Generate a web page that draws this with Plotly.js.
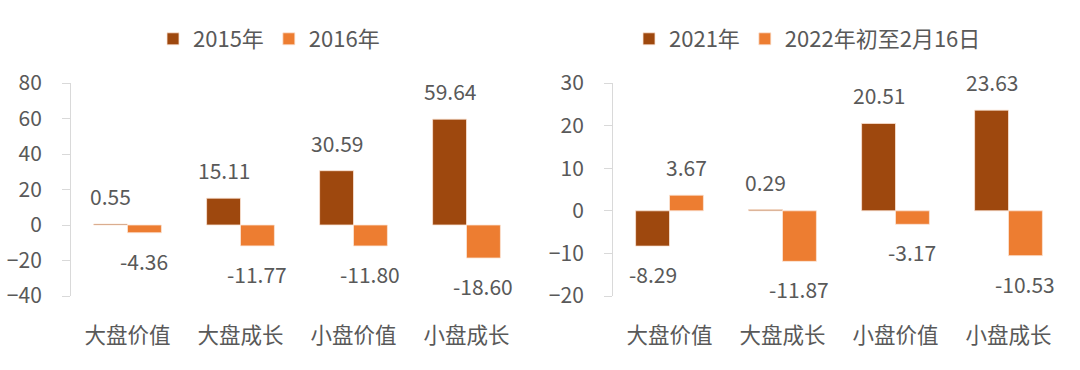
<!DOCTYPE html>
<html>
<head>
<meta charset="utf-8">
<script src="https://cdn.plot.ly/plotly-3.0.1.min.js"></script>
<style>html,body{margin:0;padding:0;background:#fff;}#chart{width:1080px;height:370px;}</style>
</head>
<body>
<div id="chart"></div>
<script>
const categories = ['大盘价值', '大盘成长', '小盘价值', '小盘成长'];
const seriesNamesLeft = ['2015年', '2016年'];
const seriesNamesRight = ['2021年', '2022年初至2月16日'];
const v2015 = [0.55, 15.11, 30.59, 59.64];
const v2016 = [-4.36, -11.77, -11.80, -18.60];
const v2021 = [-8.29, 0.29, 20.51, 23.63];
const v2022 = [3.67, -11.87, -3.17, -10.53];
const leftTicks = [-40, -20, 0, 20, 40, 60, 80];
const rightTicks = [-20, -10, 0, 10, 20, 30];

const DARK = '#9E480E', ORANGE = '#ED7D31', GREY = '#595959', AXIS = '#D9D9D9';
const FONT = 'Noto Sans CJK SC, Noto Sans, sans-serif';
const outline = {color: '#FBE5D6', width: 0.8};

function bar(name, y, color, xa, ya, legend) {
  return {type: 'bar', name: name, x: categories, y: y, xaxis: xa, yaxis: ya,
    marker: {color: color, line: outline}, legend: legend, hoverinfo: 'skip'};
}
const traces = [
  bar(seriesNamesLeft[0], v2015, DARK, 'x', 'y', 'legend'),
  bar(seriesNamesLeft[1], v2016, ORANGE, 'x', 'y', 'legend'),
  bar(seriesNamesRight[0], v2021, DARK, 'x2', 'y2', 'legend2'),
  bar(seriesNamesRight[1], v2022, ORANGE, 'x2', 'y2', 'legend2')
];

const annotations = [];
function addLabels(vals, xref, yref, off) {
  vals.forEach((v, i) => {
    annotations.push({xref: xref, yref: yref, x: i + off, y: v, text: v.toFixed(2),
      showarrow: false, xanchor: 'center', yanchor: 'middle', yshift: v >= 0 ? 28 : -28,
      font: {size: 21, color: GREY, family: FONT}});
  });
}
addLabels(v2015, 'x', 'y', -0.15);
addLabels(v2016, 'x', 'y', 0.15);
addLabels(v2021, 'x2', 'y2', -0.15);
addLabels(v2022, 'x2', 'y2', 0.15);

const dL = [71 / 1080, 523 / 1080], dR = [613 / 1080, 1065 / 1080];
const catAxis = (dom, anchor) => ({domain: dom, anchor: anchor, type: 'category', range: [-0.5, 3.5],
  showline: false, showgrid: false, zeroline: false, ticks: '', ticklabelstandoff: 24,
  tickfont: {size: 21.5, color: GREY, family: FONT}, fixedrange: true});
const valAxis = (dom, range, ticks) => ({domain: [0, 1], anchor: dom, range: range, tickvals: ticks,
  showline: true, linecolor: AXIS, linewidth: 1, ticks: 'outside', ticklen: 8, tickcolor: AXIS,
  showgrid: false, zeroline: false, ticklabelstandoff: 16,
  tickfont: {size: 21, color: GREY, family: FONT}, fixedrange: true});
const zeroAxis = (dom, over, pos) => ({domain: dom, overlaying: over, anchor: 'free', position: pos,
  range: [-0.5, 3.5], tickvals: [0.5, 1.5, 2.5, 3.5], showticklabels: false, ticks: 'outside', ticklen: 7,
  tickcolor: AXIS, showline: true, linecolor: AXIS, linewidth: 1, showgrid: false, zeroline: false, fixedrange: true});

const layout = {
  width: 1080, height: 370,
  margin: {l: 0, r: 0, t: 83, b: 74},
  paper_bgcolor: '#fff', plot_bgcolor: 'rgba(0,0,0,0)',
  font: {family: FONT, color: GREY},
  barmode: 'group', bargap: 0.4, bargroupgap: 0,
  showlegend: true,
  xaxis: catAxis(dL, 'y'),
  xaxis2: catAxis(dR, 'y2'),
  yaxis: valAxis('x', [-40, 80], leftTicks),
  yaxis2: valAxis('x2', [-20, 30], rightTicks),
  xaxis3: zeroAxis(dL, 'x', (0 - (-40)) / 120),
  xaxis4: zeroAxis(dR, 'x2', (0 - (-20)) / 50),
  legend: {orientation: 'h', x: 153 / 1080, xanchor: 'left', y: (296 - 39) / 213, yanchor: 'middle',
    font: {size: 22, color: GREY, family: FONT}, bgcolor: 'rgba(0,0,0,0)'},
  legend2: {orientation: 'h', x: 629 / 1080, xanchor: 'left', y: (296 - 39) / 213, yanchor: 'middle',
    font: {size: 22, color: GREY, family: FONT}, bgcolor: 'rgba(0,0,0,0)'},
  annotations: annotations
};
Plotly.newPlot('chart', traces, layout, {displayModeBar: false, staticPlot: true});
</script>
</body>
</html>
